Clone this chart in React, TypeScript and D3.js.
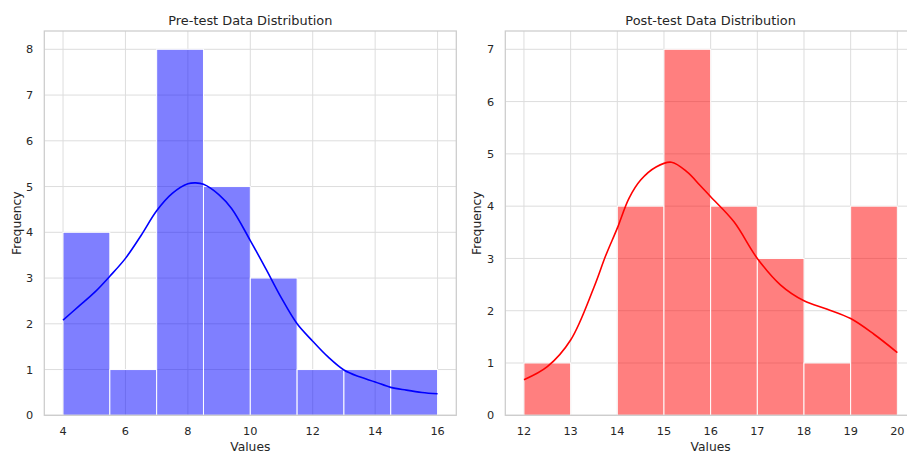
import React from 'react';
import * as d3 from 'd3';

// histogram bins (edges) and counts
const preEdges = [4, 5.5, 7, 8.5, 10, 11.5, 13, 14.5, 16];
const preCounts = [4, 1, 8, 5, 3, 1, 1, 1];
const postEdges = [12, 13, 14, 15, 16, 17, 18, 19, 20];
const postCounts = [1, 0, 4, 7, 4, 3, 1, 4];

// KDE curve samples (value, frequency)
const preKdeX = [4, 4.5, 5, 5.5, 6, 6.5, 7, 7.5, 8, 8.25, 8.5, 9, 9.4, 10, 10.5, 11, 11.5, 12, 12.5, 13, 13.5, 14, 14.5, 15, 15.5, 16];
const preKdeY = [2.08, 2.38, 2.68, 3.04, 3.43, 3.93, 4.47, 4.85, 5.06, 5.08, 5.05, 4.82, 4.52, 3.82, 3.2, 2.56, 2.0, 1.62, 1.27, 0.99, 0.84, 0.73, 0.61, 0.55, 0.5, 0.47];
const postKdeX = [12, 12.5, 13, 13.5, 13.75, 14, 14.25, 14.5, 14.83, 15.16, 15.5, 15.77, 16, 16.5, 17, 17.5, 18, 18.5, 19, 19.5, 20];
const postKdeY = [0.68, 0.93, 1.44, 2.45, 3.05, 3.58, 4.15, 4.5, 4.75, 4.84, 4.65, 4.4, 4.18, 3.7, 3.0, 2.49, 2.19, 2.03, 1.85, 1.55, 1.2];

const preXTicks = [4, 6, 8, 10, 12, 14, 16];
const preYTicks = [0, 1, 2, 3, 4, 5, 6, 7, 8];
const postXTicks = [12, 13, 14, 15, 16, 17, 18, 19, 20];
const postYTicks = [0, 1, 2, 3, 4, 5, 6, 7];

const textColor = '#262626';
const gridColor = '#dddddd';
const font = 'DejaVu Sans, sans-serif';

type PanelProps = {
  left: number;
  right: number;
  title: string;
  xDomain: [number, number];
  yDomain: [number, number];
  edges: number[];
  counts: number[];
  kdeX: number[];
  kdeY: number[];
  xTicks: number[];
  yTicks: number[];
  fill: string;
  line: string;
  yLabelX: number;
};

const top = 31;
const bottom = 415.3;

function Panel(p: PanelProps) {
  const x = d3.scaleLinear().domain(p.xDomain).range([p.left, p.right]);
  const y = d3.scaleLinear().domain(p.yDomain).range([bottom, top]);
  const pts = p.kdeX.map((v, i) => [v, p.kdeY[i]] as [number, number]);
  const line = d3
    .line<[number, number]>()
    .x(d => x(d[0]))
    .y(d => y(d[1]))
    .curve(d3.curveCatmullRom.alpha(0.5));

  return (
    <g>
      {/* grid */}
      {p.xTicks.map(t => (
        <line key={'gx' + t} x1={x(t)} x2={x(t)} y1={top} y2={bottom} stroke={gridColor} strokeWidth={1} />
      ))}
      {p.yTicks.map(t => (
        <line key={'gy' + t} x1={p.left} x2={p.right} y1={y(t)} y2={y(t)} stroke={gridColor} strokeWidth={1} />
      ))}
      {/* bars */}
      {p.counts.map((c, i) =>
        c > 0 ? (
          <rect
            key={'b' + i}
            x={x(p.edges[i])}
            width={x(p.edges[i + 1]) - x(p.edges[i])}
            y={y(c)}
            height={y(0) - y(c)}
            fill={p.fill}
            fillOpacity={0.5}
            stroke="#ffffff"
            strokeWidth={1}
          />
        ) : null
      )}
      <path d={line(pts) || ''} fill="none" stroke={p.line} strokeWidth={1.6} />
      {/* frame */}
      <rect x={p.left} y={top} width={p.right - p.left} height={bottom - top} fill="none" stroke="#cccccc" strokeWidth={1.25} />
      {/* ticks */}
      {p.xTicks.map(t => (
        <text key={'tx' + t} x={x(t)} y={434.5} textAnchor="middle" fontSize={11.3} fill={textColor}>
          {t}
        </text>
      ))}
      {p.yTicks.map(t => (
        <text key={'ty' + t} x={p.left - 11} y={y(t)} dy="0.36em" textAnchor="end" fontSize={11.3} fill={textColor}>
          {t}
        </text>
      ))}
      <text x={(p.left + p.right) / 2} y={450.5} textAnchor="middle" fontSize={12.3} fill={textColor}>
        Values
      </text>
      <text
        transform={`translate(${p.yLabelX},${(top + bottom) / 2}) rotate(-90)`}
        textAnchor="middle"
        fontSize={12.3}
        fill={textColor}
      >
        Frequency
      </text>
      <text x={(p.left + p.right) / 2} y={25} textAnchor="middle" fontSize={12.9} fill={textColor}>
        {p.title}
      </text>
    </g>
  );
}

export default function App() {
  return (
    <svg
      width={907}
      height={452}
      style={{ position: 'absolute', left: 0, top: 0, background: '#ffffff' }}
      fontFamily={font}
    >
      <rect width={907} height={452} fill="#ffffff" />
      <Panel
        left={44.3}
        right={456.3}
        title="Pre-test Data Distribution"
        xDomain={[3.4, 16.6]}
        yDomain={[0, 8.4]}
        edges={preEdges}
        counts={preCounts}
        kdeX={preKdeX}
        kdeY={preKdeY}
        xTicks={preXTicks}
        yTicks={preYTicks}
        fill="blue"
        line="blue"
        yLabelX={20.5}
      />
      <Panel
        left={505.3}
        right={916}
        title="Post-test Data Distribution"
        xDomain={[11.6, 20.4]}
        yDomain={[0, 7.35]}
        edges={postEdges}
        counts={postCounts}
        kdeX={postKdeX}
        kdeY={postKdeY}
        xTicks={postXTicks}
        yTicks={postYTicks}
        fill="red"
        line="red"
        yLabelX={481.2}
      />
    </svg>
  );
}
